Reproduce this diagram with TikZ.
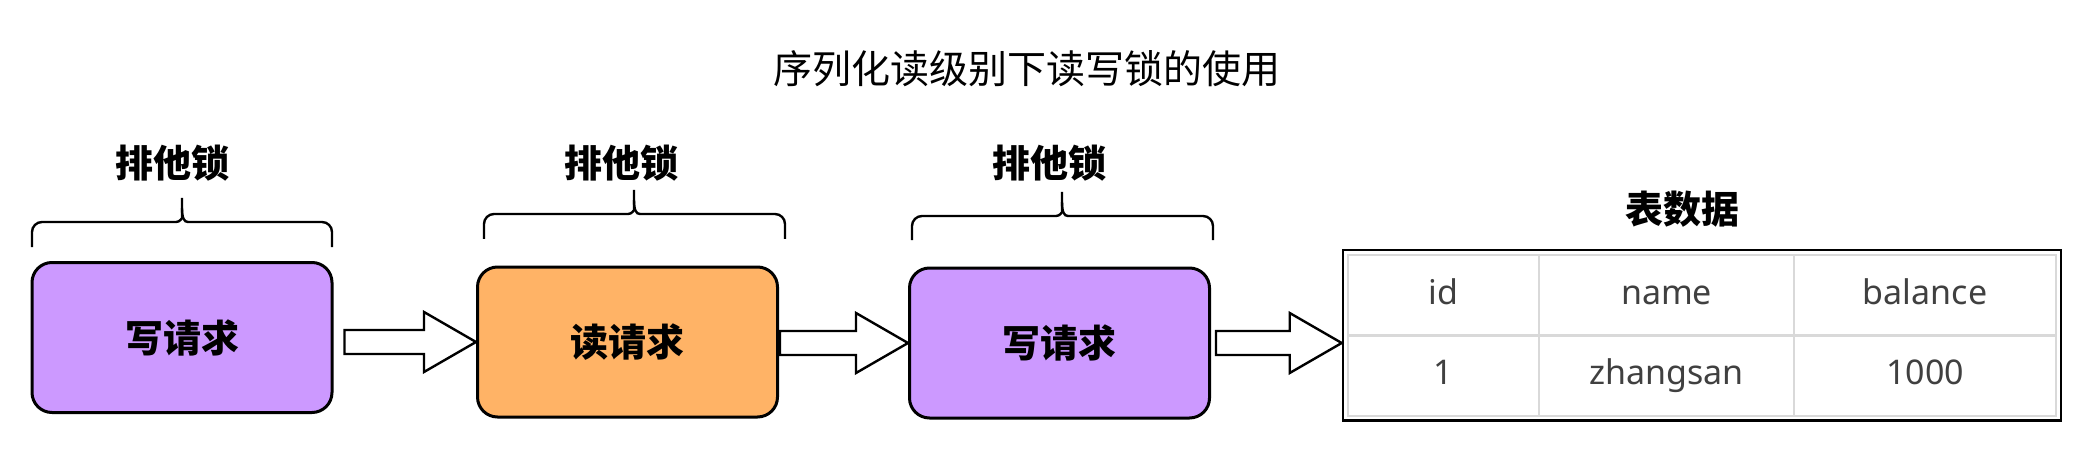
\documentclass[tikz,border=0pt]{standalone}
\usepackage{fontspec}
\usepackage{xcolor}
\newfontfamily\cjk{Noto Sans CJK SC}
\newfontfamily\tabfont{Noto Sans}
\usetikzlibrary{calc,fit}
\definecolor{writepurple}{HTML}{CC99FF}
\definecolor{readorange}{HTML}{FFB366}
\definecolor{gridgrey}{HTML}{D9D9D9}
\definecolor{celltext}{HTML}{404040}

\begin{document}
\begin{tikzpicture}[x=0.5pt,y=-0.5pt]
			\tikzstyle{every node}+=[inner sep=0pt]
			\tikzstyle{request}=[draw=black, line width=1.5pt, rounded corners=10pt, minimum width=150pt, minimum height=75pt, font=\cjk\bfseries\fontsize{19}{19}\selectfont]
			\tikzstyle{locklabel}=[font=\cjk\bfseries\fontsize{19}{19}\selectfont]
			\tikzstyle{brace}=[line width=1.2pt, rounded corners=5pt]
			\tikzstyle{flow}=[draw=black, fill=white, line width=1.2pt, line join=miter]
			\tikzstyle{cell}=[draw=gridgrey, line width=1pt, minimum height=40pt, text height=12.5pt, text depth=3.5pt, font=\tabfont\fontsize{17}{17}\selectfont, text=celltext]
			\useasboundingbox[fill=white] (0,0) rectangle (2091,454);

			\node[font=\cjk\fontsize{19.5}{19.5}\selectfont] (title) at (1027,69) {序列化读级别下读写锁的使用};

			% requests
			\node[request, fill=writepurple] (write1) at (182,337.5) {写请求};
			\node[request, fill=readorange] (read1) at (627.5,342) {读请求};
			\node[request, fill=writepurple] (write2) at (1059.5,343) {写请求};

			% braces and lock names
			\draw[brace] (32,247) -- (32,222) -- (166,222) .. controls (180,222) and (182,218) .. (182,208) -- (182,200);
			\draw[brace] (182,208) .. controls (182,218) and (184,222) .. (198,222) -- (332,222) -- (332,247);
			\node[locklabel] (lock1) at (172,163) {排他锁};

			\draw[brace] (484,239) -- (484,214) -- (618,214) .. controls (632,214) and (634,210) .. (634,200) -- (634,193);
			\draw[brace] (634,200) .. controls (634,210) and (636,214) .. (650,214) -- (785,214) -- (785,239);
			\node[locklabel] (lock2) at (621,163) {排他锁};

			\draw[brace] (912,240) -- (912,216) -- (1046,216) .. controls (1060,216) and (1062,212) .. (1062,202) -- (1062,194);
			\draw[brace] (1062,202) .. controls (1062,212) and (1064,216) .. (1078,216) -- (1213,216) -- (1213,240);
			\node[locklabel] (lock3) at (1049,163) {排他锁};

			% table
			\node[locklabel] (tabletitle) at (1682,209) {表数据};
			\node[cell, minimum width=95.5pt] (idhead) at (1443.5,295) {id};
			\node[cell, minimum width=127.5pt] (namehead) at (1666.5,295) {name};
			\node[cell, minimum width=131pt] (balhead) at (1925,295) {balance};
			\node[cell, minimum width=95.5pt] (idval) at (1443.5,375.5) {1};
			\node[cell, minimum width=127.5pt] (nameval) at (1666.5,375.5) {zhangsan};
			\node[cell, minimum width=131pt] (balval) at (1925,375.5) {1000};
			\node[draw=black, line width=1.3pt, inner sep=2pt, fit=(idhead)(balval)] (table) {};

			% block arrows
			\draw[flow] let \p1=(write1.east), \p2=(read1.west) in
				(\x1+5.5pt,\y2-6pt) -- (\x2-26pt,\y2-6pt) -- (\x2-26pt,\y2-15pt) -- (\x2,\y2) -- (\x2-26pt,\y2+15pt) -- (\x2-26pt,\y2+6pt) -- (\x1+5.5pt,\y2+6pt) -- cycle;
			\draw[flow] let \p1=(read1.east), \p2=(write2.west) in
				(\x1+0.5pt,\y2-6pt) -- (\x2-26pt,\y2-6pt) -- (\x2-26pt,\y2-15pt) -- (\x2,\y2) -- (\x2-26pt,\y2+15pt) -- (\x2-26pt,\y2+6pt) -- (\x1+0.5pt,\y2+6pt) -- cycle;
			\draw[flow] let \p1=(write2.east), \p2=(table.west) in
				(\x1+2.5pt,\y1-6pt) -- (\x2-26pt,\y1-6pt) -- (\x2-26pt,\y1-15pt) -- (\x2,\y1) -- (\x2-26pt,\y1+15pt) -- (\x2-26pt,\y1+6pt) -- (\x1+2.5pt,\y1+6pt) -- cycle;
		\end{tikzpicture}
\end{document}
